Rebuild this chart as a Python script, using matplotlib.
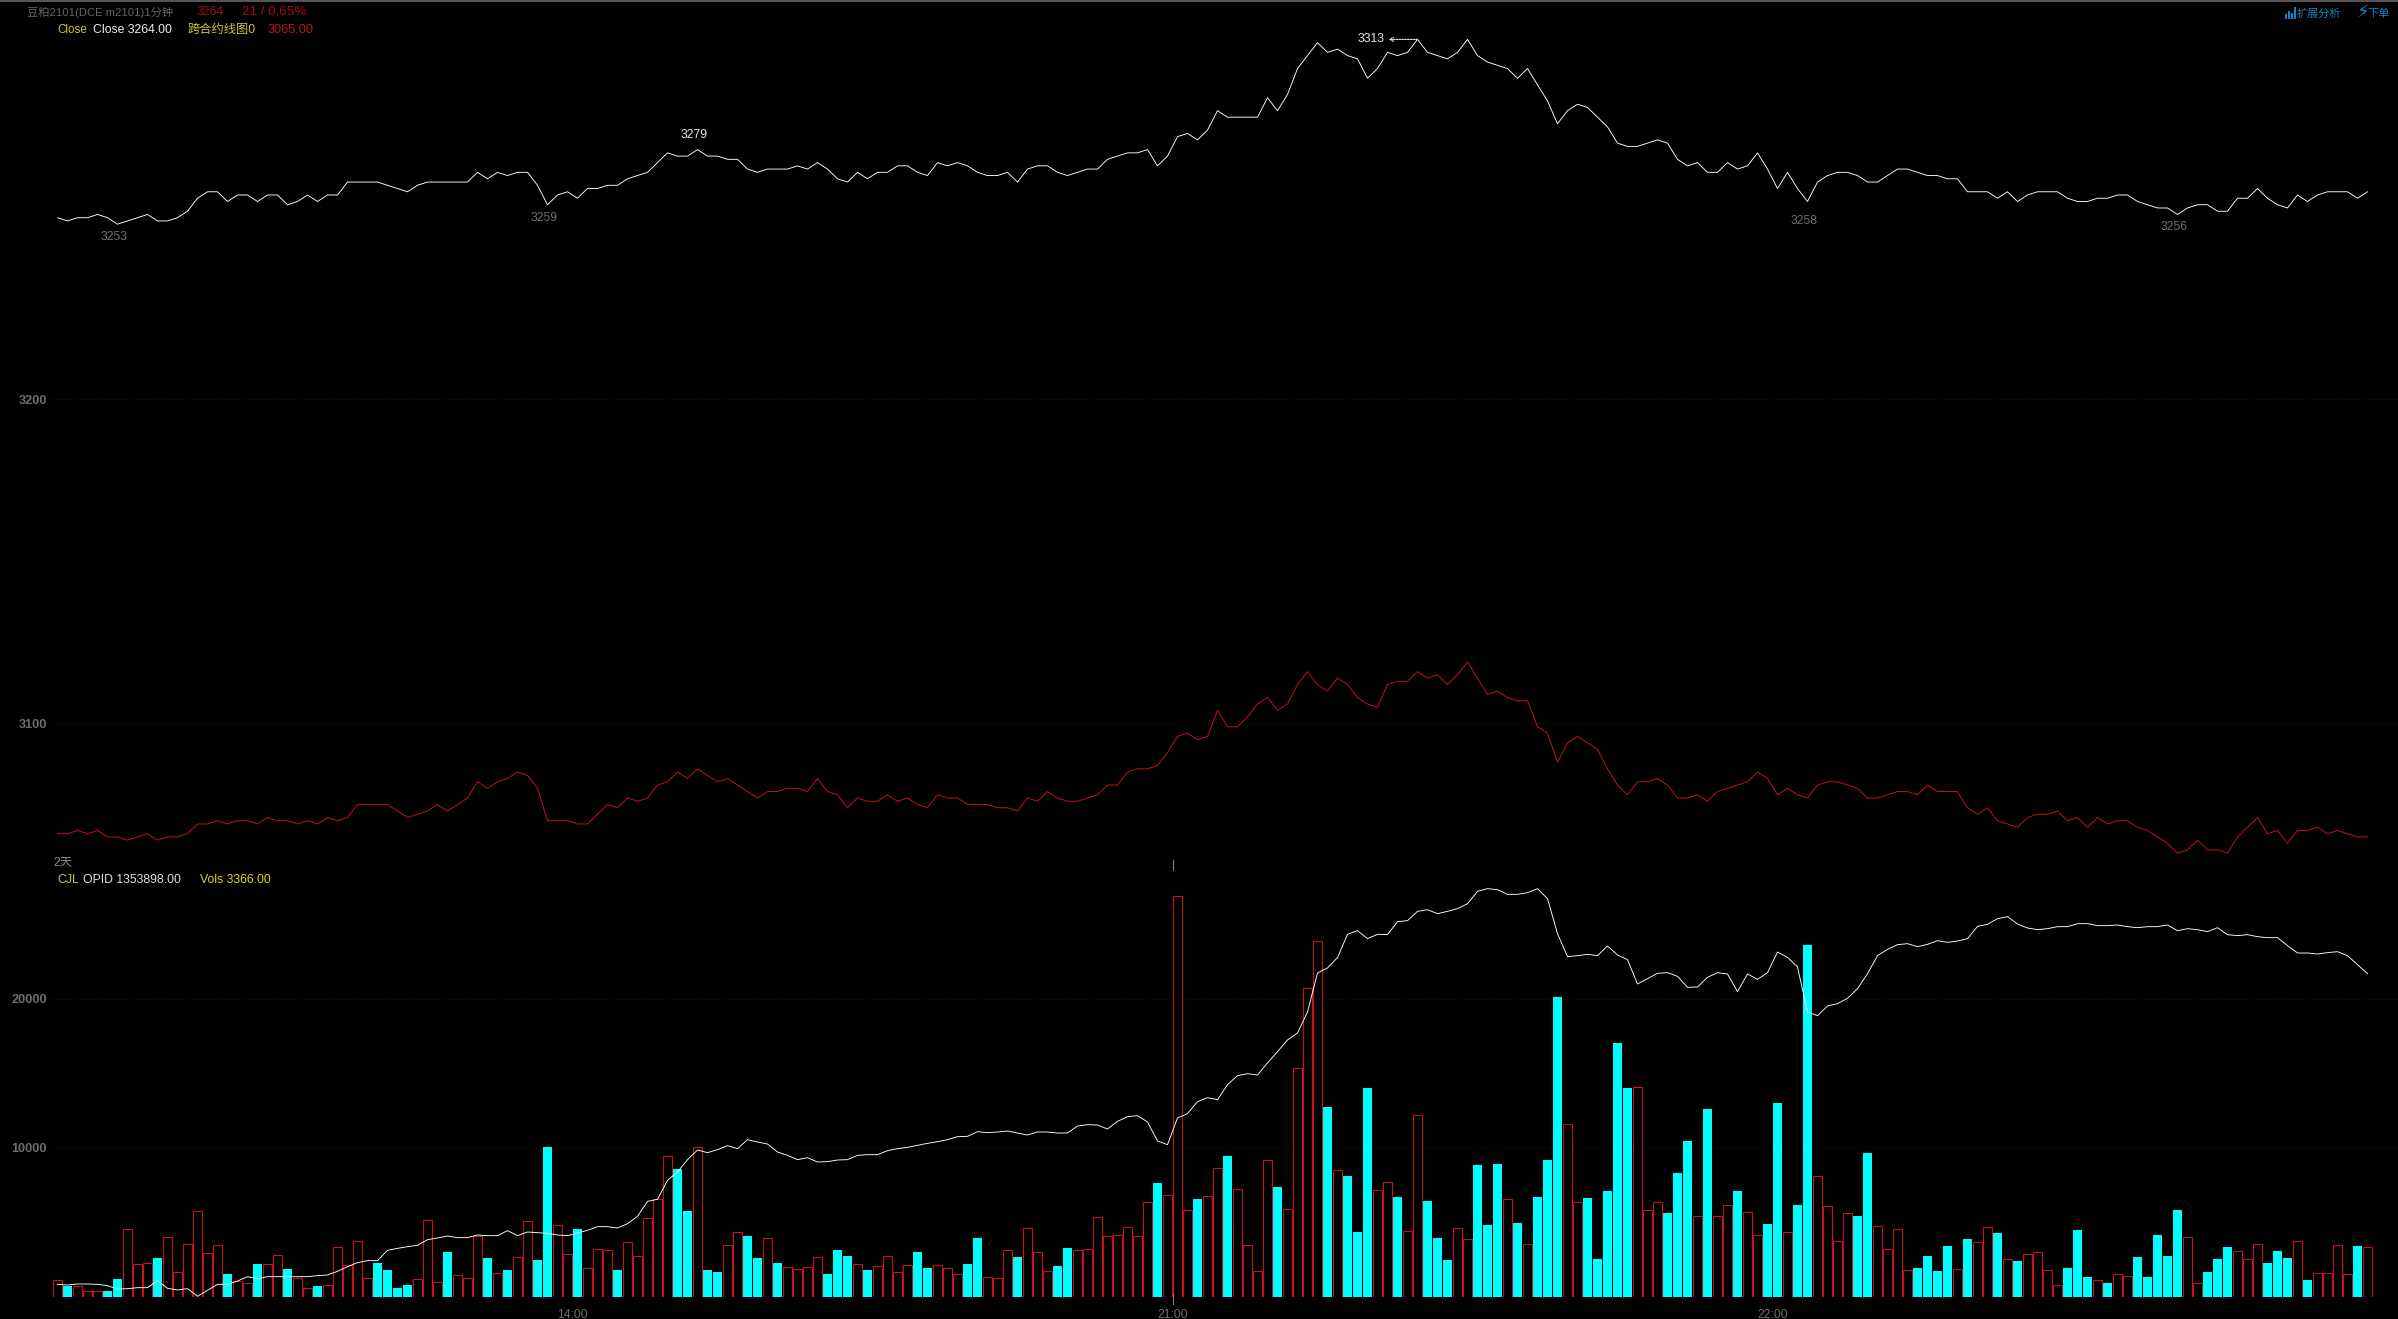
import numpy as np
import matplotlib
matplotlib.use("Agg")
import matplotlib.pyplot as plt
from matplotlib.patches import Rectangle

plt.rcParams['font.family'] = ['Liberation Sans', 'Noto Sans CJK SC', 'DejaVu Sans']

W, H = 2398, 1319

# closing price, one value per minute
close = [3256, 3255, 3256, 3256, 3257, 3256, 3254, 3255, 3256, 3257,
         3255, 3255, 3256, 3258, 3262, 3264, 3264, 3261, 3263, 3263,
         3261, 3263, 3263, 3260, 3261, 3263, 3261, 3263, 3263, 3267,
         3267, 3267, 3267, 3266, 3265, 3264, 3266, 3267, 3267, 3267,
         3267, 3267, 3270, 3268, 3270, 3269, 3270, 3270, 3266, 3260,
         3263, 3264, 3262, 3265, 3265, 3266, 3266, 3268, 3269, 3270,
         3273, 3276, 3275, 3275, 3277, 3275, 3275, 3274, 3274, 3271,
         3270, 3271, 3271, 3271, 3272, 3271, 3273, 3271, 3268, 3267,
         3270, 3268, 3270, 3270, 3272, 3272, 3270, 3269, 3273, 3272,
         3273, 3272, 3270, 3269, 3269, 3270, 3267, 3271, 3272, 3272,
         3270, 3269, 3270, 3271, 3271, 3274, 3275, 3276, 3276, 3277,
         3272, 3275, 3281, 3282, 3280, 3283, 3289, 3287, 3287, 3287,
         3287, 3293, 3289, 3294, 3302, 3306, 3310, 3307, 3308, 3306,
         3305, 3299, 3302, 3307, 3306, 3307, 3311, 3307, 3306, 3305,
         3307, 3311, 3306, 3304, 3303, 3302, 3299, 3302, 3297, 3292,
         3285, 3289, 3291, 3290, 3287, 3284, 3279, 3278, 3278, 3279,
         3280, 3279, 3274, 3272, 3273, 3270, 3270, 3273, 3271, 3272,
         3276, 3271, 3265, 3270, 3265, 3261, 3267, 3269, 3270, 3270,
         3269, 3267, 3267, 3269, 3271, 3271, 3270, 3269, 3269, 3268,
         3268, 3264, 3264, 3264, 3262, 3264, 3261, 3263, 3264, 3264,
         3264, 3262, 3261, 3261, 3262, 3262, 3263, 3263, 3261, 3260,
         3259, 3259, 3257, 3259, 3260, 3260, 3258, 3258, 3262, 3262,
         3265, 3262, 3260, 3259, 3263, 3261, 3263, 3264, 3264, 3264,
         3262, 3264]

# second contract line
spread = [3066, 3066, 3067, 3066, 3067, 3065, 3065, 3064, 3065, 3066,
          3064, 3065, 3065, 3066, 3069, 3069, 3070, 3069, 3070, 3070,
          3069, 3071, 3070, 3070, 3069, 3070, 3069, 3071, 3070, 3071,
          3075, 3075, 3075, 3075, 3073, 3071, 3072, 3073, 3075, 3073,
          3075, 3077, 3082, 3080, 3082, 3083, 3085, 3084, 3080, 3070,
          3070, 3070, 3069, 3069, 3072, 3075, 3074, 3077, 3076, 3077,
          3081, 3082, 3085, 3083, 3086, 3084, 3082, 3083, 3081, 3079,
          3077, 3079, 3079, 3080, 3080, 3079, 3083, 3079, 3078, 3074,
          3077, 3076, 3076, 3078, 3076, 3077, 3075, 3074, 3078, 3077,
          3077, 3075, 3075, 3075, 3074, 3074, 3073, 3077, 3076, 3079,
          3077, 3076, 3076, 3077, 3078, 3081, 3081, 3085, 3086, 3086,
          3087, 3091, 3096, 3097, 3095, 3096, 3104, 3099, 3099, 3102,
          3106, 3108, 3104, 3106, 3112, 3116, 3112, 3110, 3114, 3112,
          3108, 3106, 3105, 3112, 3113, 3113, 3116, 3114, 3115, 3112,
          3115, 3119, 3114, 3109, 3110, 3108, 3107, 3107, 3099, 3097,
          3088, 3094, 3096, 3094, 3092, 3086, 3081, 3078, 3082, 3082,
          3083, 3081, 3077, 3077, 3078, 3076, 3079, 3080, 3081, 3082,
          3085, 3083, 3078, 3080, 3078, 3077, 3081, 3082, 3082, 3081,
          3080, 3077, 3077, 3078, 3079, 3079, 3078, 3081, 3079, 3079,
          3079, 3074, 3072, 3074, 3070, 3069, 3068, 3071, 3072, 3072,
          3073, 3070, 3071, 3068, 3071, 3069, 3070, 3070, 3068, 3067,
          3065, 3063, 3060, 3061, 3064, 3061, 3061, 3060, 3065, 3068,
          3071, 3066, 3067, 3063, 3067, 3067, 3068, 3066, 3067, 3066,
          3065, 3065]

vols = [1165, 717, 762, 403, 403, 381, 1232, 4592, 2240, 2307,
        2598, 4032, 1702, 3584, 5802, 2979, 3517, 1568, 1075, 941,
        2240, 2240, 2845, 1904, 1299, 627, 762, 829, 3382, 2128,
        3786, 1299, 2307, 1837, 627, 829, 1232, 5197, 1030, 3046,
        1478, 1299, 4077, 2643, 1635, 1792, 2710, 5130, 2464, 10035,
        4861, 2912, 4547, 1971, 3248, 3181, 1792, 3718, 2778, 5331,
        6586, 9430, 8624, 5757, 10035, 1837, 1702, 3517, 4390, 4122,
        2598, 3987, 2307, 2038, 1904, 2038, 2710, 1568, 3181, 2778,
        2240, 1792, 2106, 2778, 1702, 2173, 3046, 1971, 2173, 1971,
        1568, 2240, 3987, 1366, 1299, 3181, 2710, 4659, 3046, 1770,
        2106, 3315, 3181, 3248, 5398, 4122, 4189, 4726, 4122, 6406,
        7683, 6877, 26902, 5869, 6608, 6810, 8691, 9430, 7280, 3517,
        1770, 9162, 7414, 5936, 15344, 20720, 23878, 12723, 8557, 8154,
        4390, 14000, 7213, 7750, 6742, 4458, 12186, 6474, 3987, 2509,
        4659, 3920, 8826, 4861, 8893, 6608, 4995, 3584, 6742, 9162,
        20115, 11581, 6406, 6675, 2576, 7101, 17046, 14000, 14067, 5869,
        6406, 5667, 8310, 10438, 5466, 12589, 5466, 6205, 7101, 5734,
        4189, 4928, 12992, 4390, 6205, 23610, 8154, 6138, 3786, 5667,
        5466, 9632, 4794, 3248, 4592, 1837, 1971, 2778, 1770, 3450,
        1904, 3920, 3718, 4726, 4323, 2576, 2442, 2912, 3046, 1837,
        829, 1971, 4525, 1366, 1165, 963, 1568, 1434, 2710, 1366,
        4189, 2778, 5869, 4032, 963, 1702, 2576, 3382, 3114, 2576,
        3584, 2307, 3114, 2643, 3786, 1165, 1635, 1635, 3517, 1568,
        3450, 3366]

# r = up bar (hollow red), c = down bar (solid cyan)
vol_dirs = ("rcrrrccrrr" "crrrrrrcrr" "crrcrrcrrr" "rrccccrrrc" "rrrcrcrrcc"
            "rrcrrrcrrr" "rrccrccrrc" "crcrr" "rrccc"
            "rcrrrrccrr" "rccrrrcrrr" "ccrrrrrrrr" "crrrcrrcrr" "rrcrrrrcrc"
            "ccrrcrrccc" "rrcccrcrcc" "crrcc" "cccrr"
            "rcccrcrrcr" "rccrccrrrr" "ccrrrrcccc" "rcrrcrcrrr" "rcccrcrrcc"
            "cccrrcccrr" "rcccrcrrrrcr")

# open interest, height above the panel floor (no scale printed on the chart)
opid_rel = [38, 36, 39, 39, 38, 34, 24, 25, 28, 28,
            49, 26, 21, 25, 2, 20, 38, 38, 48, 61,
            55, 61, 61, 61, 61, 61, 64, 66, 77, 91,
            103, 109, 109, 140, 146, 151, 155, 172, 177, 183,
            178, 178, 186, 184, 184, 199, 184, 195, 193, 191,
            186, 184, 192, 200, 211, 211, 207, 220, 242, 287,
            293, 350, 375, 412, 441, 433, 442, 454, 445, 472,
            465, 459, 435, 425, 412, 418, 405, 406, 411, 412,
            425, 427, 427, 439, 445, 449, 455, 461, 466, 472,
            481, 482, 496, 493, 495, 498, 492, 486, 495, 495,
            492, 492, 513, 517, 516, 504, 527, 541, 544, 525,
            468, 457, 537, 550, 586, 598, 592, 637, 664, 670,
            666, 702, 736, 771, 792, 855, 972, 987, 1018, 1088,
            1099, 1075, 1088, 1087, 1126, 1129, 1157, 1162, 1150, 1157,
            1165, 1180, 1217, 1225, 1222, 1208, 1208, 1213, 1225, 1195,
            1090, 1021, 1024, 1028, 1024, 1053, 1026, 1012, 939, 955,
            971, 973, 962, 929, 930, 959, 973, 969, 916, 969,
            953, 973, 1035, 1019, 990, 855, 844, 873, 880, 896,
            925, 970, 1024, 1043, 1057, 1060, 1051, 1058, 1069, 1064,
            1068, 1075, 1112, 1118, 1135, 1141, 1119, 1107, 1102, 1105,
            1111, 1111, 1120, 1120, 1114, 1114, 1116, 1111, 1108, 1111,
            1111, 1116, 1099, 1105, 1102, 1096, 1108, 1087, 1084, 1087,
            1081, 1078, 1078, 1054, 1032, 1032, 1029, 1033, 1036, 1024,
            997, 970]

time_ticks = [51.5, 111.5, 171.5]
time_labels = ["14:00", "21:00", "22:00"]
price_ticks = [3100, 3200]
vol_ticks = [10000, 20000]

# high / low marks on the close line
low_idx = [6, 49, 175, 212]
low_vals = [3253, 3259, 3258, 3256]
high_idx = 64
high_val = 3279
top_idx = 136
top_val = 3313

BG = "#000000"
RED = "#c4121f"
CYAN = "#00ffff"
GRID = "#2b0808"
GRAY = "#6e6e6e"
YELLOW = "#c9c93a"
BLUE = "#1b82c4"
FS = 8.8


def px_axes(left, top, right, bottom):
    return fig.add_axes([left / W, 1 - bottom / H, (right - left) / W, (bottom - top) / H])


def px_text(x, y, s, color, ha="left", size=FS):
    fig.text(x / W, 1 - y / H, s, color=color, ha=ha, va="center", fontsize=size)


fig = plt.figure(figsize=(W / 100, H / 100), dpi=100, facecolor=BG)
x = np.arange(len(close))
xlim = (-0.75, 234.05)

# upper panel
ax = px_axes(50, 0, W, 858)
ax.set_facecolor(BG)
ax.plot(x, close, color="#ffffff", lw=0.65)
ax.plot(x, spread, color=RED, lw=0.7)
ax.set_xlim(xlim)
ax.set_ylim(3058.5, 3323.15)
ax.set_yticks(price_ticks)
ax.set_xticks([])
ax.tick_params(axis="y", length=0, pad=2, labelsize=9.2, labelcolor=GRAY)
for lab in ax.get_yticklabels():
    lab.set_fontweight("bold")
ax.grid(axis="y", color=GRID, lw=0.8, ls=":")
for s in ax.spines.values():
    s.set_visible(False)

# the labels sit just off the bar low / high, not the close
for i, val in zip(low_idx, low_vals):
    ax.text(i - 0.37, val - 3, str(val), color=GRAY, ha="center", va="center", fontsize=FS)
ax.text(high_idx - 0.35, high_val + 2.6, str(high_val), color="#e8e8e8", ha="center", va="center", fontsize=FS)
ax.text(top_idx - 4.65, close[top_idx], str(top_val), color="#e8e8e8", ha="center", va="center", fontsize=FS)
ax.annotate("", xy=(top_idx - 2.9, close[top_idx]), xytext=(top_idx, close[top_idx]),
            arrowprops=dict(arrowstyle="->", color="#e8e8e8", lw=0.8, ls=(0, (1.5, 1)), mutation_scale=7,
                            shrinkA=0, shrinkB=0))

# volume panel
ax2 = px_axes(50, 858, W, 1297)
ax2.set_facecolor(BG)
vols_arr = np.array(vols)
up = np.array([d == "r" for d in vol_dirs])
ax2.bar(x[~up], vols_arr[~up], width=0.92, color=CYAN, lw=0)
ax2.bar(x[up], vols_arr[up], width=0.82, facecolor=BG, edgecolor=RED, lw=0.8)
ax2.set_xlim(xlim)
ax2.set_ylim(0, 29463)
ax2.set_yticks(vol_ticks)
ax2.set_xticks(time_ticks)
ax2.set_xticklabels(time_labels)
ax2.tick_params(axis="y", length=0, pad=2, labelsize=9.2, labelcolor=GRAY)
ax2.tick_params(axis="x", length=0, pad=9, labelsize=FS, labelcolor=GRAY)
for lab in ax2.get_yticklabels():
    lab.set_fontweight("bold")
ax2.grid(axis="y", color=GRID, lw=0.8, ls=":")
ax2.set_axisbelow(True)
for s in ax2.spines.values():
    s.set_visible(False)

# session mark at 21:00
trans = ax2.get_xaxis_transform()
ax2.plot([time_ticks[1]] * 2, [-0.016, 0.007], color="#8a8a8a", lw=0.7, transform=trans, clip_on=False)
ax2.plot([time_ticks[1]] * 2, [0.972, 0.995], color="#8a8a8a", lw=0.7, transform=trans, clip_on=False)

# open interest on its own scale
ax3 = ax2.twinx()
ax3.plot(x, opid_rel, color="#ffffff", lw=0.65)
ax3.set_ylim(0, 1317)
ax3.set_yticks([])
for s in ax3.spines.values():
    s.set_visible(False)

# header bar and texts
fig.add_artist(Rectangle((0, 1 - 2 / H), 1, 2 / H, transform=fig.transFigure, color="#555555", lw=0))
px_text(27, 12, "豆粕2101(DCE m2101)1分钟", "#666666", size=8.1)
px_text(197, 12, "3264", "#a31018")
px_text(242, 12, "21 / 0.65%", "#a31018", size=9.6)
px_text(57, 30, "Close", YELLOW, size=8.4)
px_text(93, 30, "Close 3264.00", "#eeeeee")
px_text(188, 30, "跨合约线图0", YELLOW)
px_text(268, 30, "3065.00", "#c0141c", size=9.2)
px_text(2297, 14, "扩展分析", BLUE, size=8)
px_text(2357, 13, "⚡", BLUE, size=13)
px_text(2367, 14, "下单", BLUE, size=8)
for bx, bh in zip([2285, 2288, 2291, 2294], [5, 8, 6, 12]):
    fig.add_artist(Rectangle((bx / W, 1 - 19 / H), 2 / W, bh / H, transform=fig.transFigure, color=BLUE, lw=0))
px_text(53, 862, "2天", "#8a8a8a")
px_text(57, 880, "CJL", YELLOW)
px_text(83, 880, "OPID 1353898.00", "#dddddd")
px_text(200, 880, "Vols 3366.00", "#d8d820")

fig.savefig("out.png", dpi=100, facecolor=BG)
